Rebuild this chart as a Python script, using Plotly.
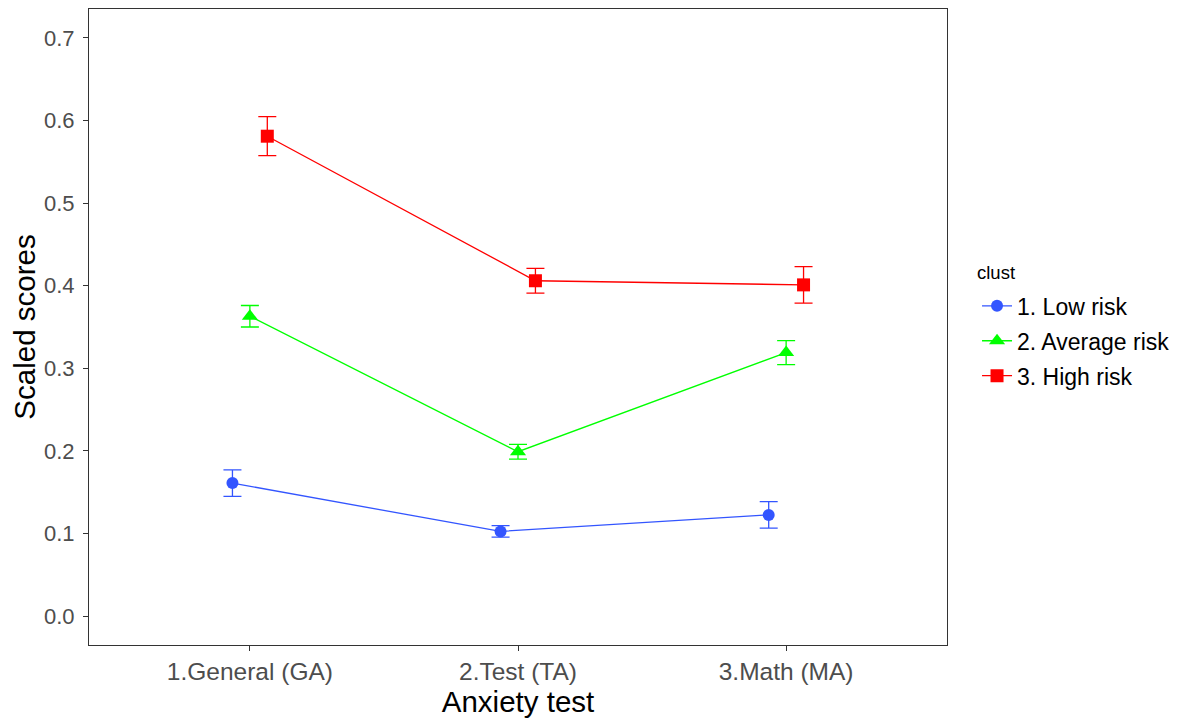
import plotly.graph_objects as go

categories = ["1.General (GA)", "2.Test (TA)", "3.Math (MA)"]
clusters = ["1. Low risk", "2. Average risk", "3. High risk"]
low_mean = [0.161, 0.1025, 0.1225]
low_se = [0.016, 0.007, 0.016]
avg_mean = [0.363, 0.199, 0.319]
avg_se = [0.013, 0.009, 0.0145]
high_mean = [0.581, 0.406, 0.401]
high_se = [0.0236, 0.015, 0.022]
y_ticks = [0.0, 0.1, 0.2, 0.3, 0.4, 0.5, 0.6, 0.7]

means = [low_mean, avg_mean, high_mean]
ses = [low_se, avg_se, high_se]
colors = ["#3355FF", "#00FF00", "#FF0000"]
symbols = ["circle", "triangle-up", "square"]
msizes = [12, 14, 13]
dodge = [-0.065, 0.0, 0.065]

fig = go.Figure()
for i, name in enumerate(clusters):
    xs = [k + 1 + dodge[i] for k in range(len(categories))]
    fig.add_trace(go.Scatter(
        x=xs, y=means[i], name=name, mode="lines+markers",
        legendgroup=f"g{i}",
        line=dict(color=colors[i], width=1.3),
        marker=dict(symbol=symbols[i], size=msizes[i], color=colors[i]),
        error_y=dict(type="data", array=ses[i], visible=True,
                     color=colors[i], thickness=1.3, width=9),
    ))

axis_common = dict(
    showgrid=False, zeroline=False, showline=True, mirror=True,
    linecolor="#333333", linewidth=1, ticks="outside", ticklen=5,
    tickcolor="#333333", tickwidth=1,
)

fig.update_layout(
    width=1180, height=711,
    margin=dict(l=81, r=241, t=1, b=74),
    paper_bgcolor="white", plot_bgcolor="white",
    font=dict(family="Liberation Sans, Arial", color="black"),
    xaxis=dict(range=[0.4, 3.6], tickvals=[1, 2, 3], ticktext=categories,
               tickfont=dict(family="Liberation Sans, Arial", size=24.5, color="#4D4D4D"),
               title=dict(text="Anxiety test", font=dict(size=29.5), standoff=3),
               **axis_common),
    yaxis=dict(range=[-0.035, 0.735], tickvals=y_ticks,
               ticktext=[f"{v:.1f}" for v in y_ticks],
               tickfont=dict(family="Liberation Sans, Arial", size=22, color="#4D4D4D"),
               ticklabelstandoff=4,
               title=dict(text="Scaled scores", font=dict(size=29.5), standoff=4),
               **axis_common),
    legend=dict(
        x=1.035, y=0.567, xanchor="left", yanchor="top",
        font=dict(size=23), tracegroupgap=2, traceorder="grouped",
        bgcolor="rgba(0,0,0,0)",
    ),
    annotations=[dict(
        text="clust", xref="paper", yref="paper", x=1.0326, y=0.586,
        xanchor="left", yanchor="middle", showarrow=False,
        font=dict(size=18.5, color="black"),
    )],
)

fig.write_html("out.html")
